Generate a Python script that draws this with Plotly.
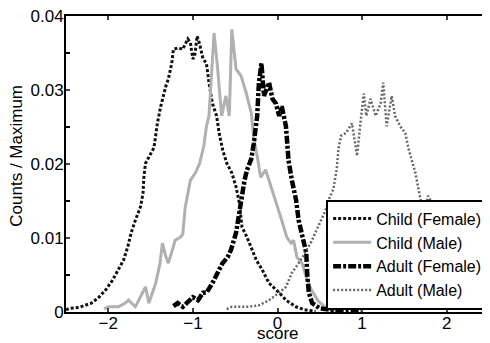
import plotly.graph_objects as go

# ---- data ----
child_f_x = [-2.5, -2.46, -2.35, -2.28, -2.2, -2.11, -2.03, -1.95, -1.88, -1.82, -1.77, -1.73,
             -1.68, -1.62, -1.59, -1.58, -1.56, -1.52, -1.46, -1.42, -1.38, -1.32, -1.29, -1.25,
             -1.23, -1.17, -1.12, -1.06, -1.03, -1.0, -0.98, -0.95, -0.92, -0.88, -0.84, -0.81,
             -0.77, -0.72, -0.69, -0.65, -0.6, -0.54, -0.49, -0.45, -0.42, -0.36, -0.31, -0.25,
             -0.18, -0.1, 0.02, 0.1, 0.22, 0.32, 0.45]
child_f_y = [0.0003, 0.0005, 0.0006, 0.0009, 0.0012, 0.002, 0.003, 0.0043, 0.0057, 0.007, 0.0088, 0.0107,
             0.0124, 0.0142, 0.016, 0.0182, 0.0201, 0.021, 0.0222, 0.0255, 0.0278, 0.0305, 0.0315, 0.0336,
             0.0355, 0.0357, 0.0355, 0.0369, 0.0364, 0.0342, 0.0345, 0.0373, 0.0362, 0.0342, 0.0336, 0.031,
             0.0282, 0.0265, 0.0242, 0.022, 0.0201, 0.0188, 0.0169, 0.0147, 0.0115, 0.0101, 0.0088, 0.007,
             0.0057, 0.0039, 0.0026, 0.0016, 0.0007, 0.0003, 0.0001]

child_m_x = [-2.05, -2.0, -1.88, -1.8, -1.76, -1.68, -1.6, -1.56, -1.52, -1.47, -1.44, -1.39, -1.36,
             -1.32, -1.29, -1.24, -1.21, -1.15, -1.12, -1.09, -1.03, -0.97, -0.92, -0.87, -0.84, -0.81,
             -0.77, -0.75, -0.71, -0.66, -0.61, -0.57, -0.54, -0.49, -0.43, -0.37, -0.31, -0.28, -0.24,
             -0.2, -0.14, -0.1, -0.02, 0.05, 0.11, 0.16, 0.19, 0.23, 0.29, 0.34, 0.4, 0.48, 0.58, 0.7]
child_m_y = [0.0004, 0.0007, 0.0007, 0.0012, 0.0016, 0.0007, 0.0025, 0.0034, 0.0012, 0.003, 0.0039, 0.0065, 0.0093,
             0.0075, 0.0066, 0.0085, 0.0097, 0.0101, 0.0105, 0.0142, 0.0178, 0.0188, 0.0201, 0.0225, 0.0251, 0.0265,
             0.0332, 0.0377, 0.0332, 0.0265, 0.0292, 0.0265, 0.0382, 0.0328, 0.0319, 0.0296, 0.0269, 0.0234, 0.0211,
             0.0182, 0.0192, 0.0178, 0.0151, 0.0124, 0.0101, 0.0093, 0.0097, 0.0074, 0.0066, 0.0047, 0.003, 0.0015, 0.0005, 0.0001]

adult_f_x = [-1.23, -1.18, -1.12, -1.05, -1.0, -0.94, -0.88, -0.84, -0.77, -0.69, -0.65, -0.59, -0.55,
             -0.49, -0.45, -0.43, -0.39, -0.36, -0.31, -0.28, -0.24, -0.22, -0.19, -0.16, -0.13, -0.1,
             -0.06, -0.02, 0.02, 0.05, 0.1, 0.11, 0.13, 0.17, 0.22, 0.25, 0.29, 0.34, 0.35, 0.37, 0.41,
             0.5, 0.7, 1.0]
adult_f_y = [0.0008, 0.0012, 0.0007, 0.0015, 0.002, 0.0016, 0.0026, 0.0026, 0.0039, 0.0057, 0.0066, 0.0074, 0.0084,
             0.0107, 0.0134, 0.0155, 0.0178, 0.0192, 0.0207, 0.0228, 0.0265, 0.031, 0.0336, 0.0292, 0.03, 0.031,
             0.0288, 0.0282, 0.0265, 0.0278, 0.0251, 0.0228, 0.0205, 0.0178, 0.0151, 0.0124, 0.0107, 0.008, 0.0053, 0.0026, 0.0012,
             0.0005, 0.0002, 0.0001]

adult_m_x = [-0.6, -0.54, -0.34, -0.22, -0.1, 0.02, 0.1, 0.17, 0.22, 0.3, 0.4, 0.5, 0.57, 0.61, 0.66,
             0.7, 0.72, 0.75, 0.81, 0.88, 0.94, 0.98, 1.02, 1.05, 1.1, 1.16, 1.22, 1.25, 1.29, 1.35,
             1.39, 1.45, 1.51, 1.55, 1.58, 1.63, 1.66, 1.7, 1.75, 1.78, 1.86, 1.94, 2.05, 2.15, 2.25, 2.4]
adult_m_y = [0.0004, 0.0007, 0.0007, 0.0009, 0.0016, 0.0026, 0.0034, 0.0053, 0.0061, 0.0075, 0.0095, 0.012, 0.0138, 0.0153, 0.0166,
             0.0193, 0.022, 0.0238, 0.0242, 0.0255, 0.0211, 0.0255, 0.0295, 0.0265, 0.0288, 0.0265, 0.0282, 0.031, 0.0251, 0.0292,
             0.0265, 0.0251, 0.0242, 0.022, 0.0207, 0.0188, 0.017, 0.0147, 0.0139, 0.0157, 0.0139, 0.013, 0.009, 0.005, 0.002, 0.0005]

series_names = ["Child (Female)", "Child (Male)", "Adult (Female)", "Adult (Male)"]

x_ticks = [-2, -1, 0, 1, 2]
y_ticks = [0, 0.01, 0.02, 0.03, 0.04]
y_tick_labels = ["0", "0.01", "0.02", "0.03", "0.04"]

FONT = "Liberation Sans, Arial, Helvetica, sans-serif"

fig = go.Figure()
fig.add_trace(go.Scatter(x=child_f_x, y=child_f_y, mode="lines", name=series_names[0],
                         line=dict(color="#111111", width=3, dash="3px,2px")))
fig.add_trace(go.Scatter(x=child_m_x, y=child_m_y, mode="lines", name=series_names[1],
                         line=dict(color="#b0b0b0", width=3)))
fig.add_trace(go.Scatter(x=adult_f_x, y=adult_f_y, mode="lines", name=series_names[2],
                         line=dict(color="#000000", width=4.5, dash="8px,2px,3px,2px")))
fig.add_trace(go.Scatter(x=adult_m_x, y=adult_m_y, mode="lines", name=series_names[3],
                         line=dict(color="#666666", width=2.5, dash="2px,2px")))

# axis titles as annotations (precise placement)
fig.add_annotation(text="score", x=0.5, xref="paper", y=-0.074, yref="paper",
                   yanchor="middle", xanchor="center", showarrow=False,
                   font=dict(family=FONT, size=17, color="black"))
fig.add_annotation(text="Counts / Maximum", x=-0.119, xref="paper", y=0.527, yref="paper",
                   yanchor="middle", xanchor="center", showarrow=False, textangle=-90,
                   font=dict(family=FONT, size=17, color="black"))

# page body has an 8px margin, so the figure is sized/offset to compensate
fig.update_layout(
    width=482, height=335,
    margin=dict(l=58, r=1, t=8, b=31, autoexpand=False),
    paper_bgcolor="white", plot_bgcolor="white",
    font=dict(family=FONT, size=17, color="black"),
    showlegend=True,
    legend=dict(x=0.998, xanchor="right", y=0.008, yanchor="bottom",
                bgcolor="white", bordercolor="black", borderwidth=2,
                font=dict(family=FONT, size=16, color="black"),
                tracegroupgap=0, itemwidth=38),
    xaxis=dict(range=[-2.5, 2.5], tickvals=x_ticks, ticks="inside", ticklen=4, tickwidth=2,
               showline=True, linecolor="black", linewidth=2, mirror="ticks",
               showgrid=False, zeroline=False, automargin=False, ticklabelstandoff=-5,
               ticklabeloverflow="allow", tickfont=dict(size=17)),
    yaxis=dict(range=[0, 0.04], tickvals=y_ticks, ticktext=y_tick_labels, ticks="inside",
               ticklen=4, tickwidth=2,
               minor=dict(dtick=0.005, tick0=0, ticks="inside", ticklen=4, tickwidth=2, tickcolor="black", showgrid=False),
               showline=True, linecolor="black", linewidth=2, mirror="ticks",
               showgrid=False, zeroline=False, automargin=False, ticklabelstandoff=-3,
               ticklabeloverflow="allow", tickfont=dict(size=17)),
)

fig.write_html("out.html", config={"displayModeBar": False})
